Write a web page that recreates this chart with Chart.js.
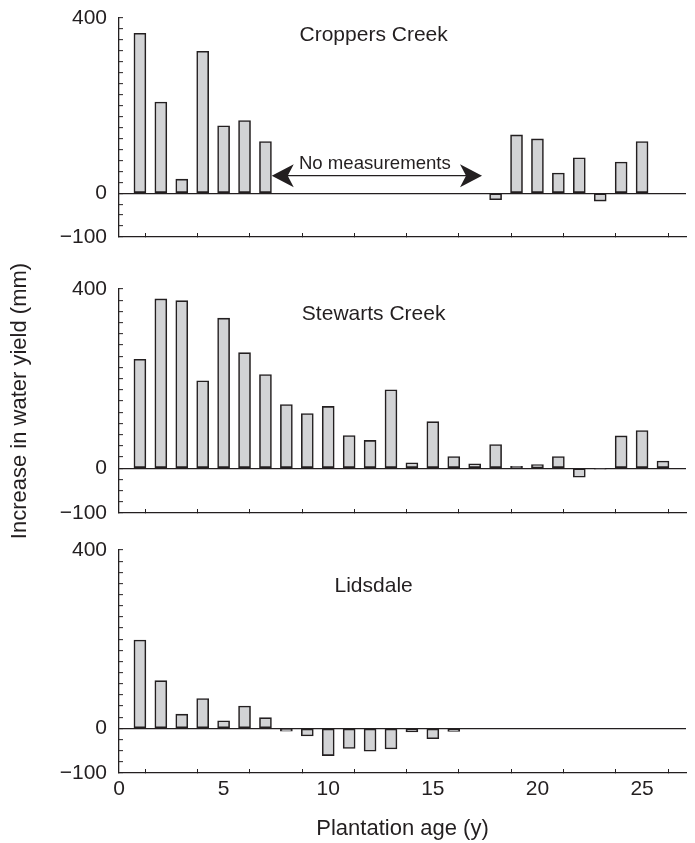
<!DOCTYPE html>
<html>
<head>
<meta charset="utf-8">
<script src="https://cdn.jsdelivr.net/npm/chart.js@4.4.1/dist/chart.umd.min.js"></script>
<style>
html, body { margin: 0; padding: 0; background: #fff; }
#wrap { position: relative; width: 695px; height: 843px; }
canvas { position: absolute; left: 0; }
</style>
</head>
<body>
<div id="wrap">
  <canvas id="croppers" width="695" height="251" style="top:0px"></canvas>
  <canvas id="stewarts" width="695" height="300" style="top:250px"></canvas>
  <canvas id="lidsdale" width="695" height="313" style="top:530px"></canvas>
</div>
<script>
// plantation age (years) and increase in water yield (mm) per catchment
const ages = [1, 2, 3, 4, 5, 6, 7, 8, 9, 10, 11, 12, 13, 14, 15, 16, 17, 18, 19, 20, 21, 22, 23, 24, 25, 26];
const croppersCreek = [365, 208, 32, 324, 154, 166, 118, null, null, null, null, null, null, null, null, null, null, -15, 133, 124, 46, 81, -18, 71, 118, null];
const stewartsCreek = [243, 378, 374, 195, 335, 258, 209, 142, 122, 138, 73, 62, 175, 12, 104, 26, 10, 53, 4, 8, 26, -20, -2, 72, 84, 16];
const lidsdale = [198, 107, 32, 67, 17, 50, 24, -6, -17, -61, -45, -51, -46, -8, -23, -7, null, null, null, null, null, null, null, null, null, null];

const yTickLabels = { '400': '400', '0': '0', '-100': '\u2212100' };
const xTickLabels = [0, 5, 10, 15, 20, 25];
const gapYears = [7.3, 17.35];   // Croppers Creek: years without measurements

const INK = '#231f20';
Chart.defaults.font.family = "'Liberation Sans', Arial, sans-serif";
Chart.defaults.color = INK;

// panel name, and the "no measurements" arrow on the first panel
const panelText = {
  id: 'panelText',
  afterDraw(chart, args, opts) {
    const { ctx, chartArea } = chart;
    const x = chart.scales.x, y = chart.scales.y;
    ctx.save();
    ctx.fillStyle = INK;
    ctx.font = "21px 'Liberation Sans', Arial, sans-serif";
    ctx.textAlign = 'center';
    ctx.textBaseline = 'alphabetic';
    ctx.fillText(opts.name, x.getPixelForValue(12.17), chartArea.top + opts.nameY);
    if (opts.arrow) {
      const x0 = x.getPixelForValue(gapYears[0]);
      const x1 = x.getPixelForValue(gapYears[1]);
      const ya = y.getPixelForValue(40);
      ctx.strokeStyle = INK;
      ctx.lineWidth = 1.3;
      ctx.beginPath();
      ctx.moveTo(x0 + 10, ya);
      ctx.lineTo(x1 - 10, ya);
      ctx.stroke();
      [[x0, 1], [x1, -1]].forEach(([tx, d]) => {
        ctx.beginPath();
        ctx.moveTo(tx, ya);
        ctx.lineTo(tx + d * 22, ya - 11.5);
        ctx.lineTo(tx + d * 16, ya);
        ctx.lineTo(tx + d * 22, ya + 11.5);
        ctx.closePath();
        ctx.fill();
      });
      ctx.font = "18.6px 'Liberation Sans', Arial, sans-serif";
      ctx.fillText('No measurements', (x0 + x1) / 2 - 2, ya - 7);
    }
    ctx.restore();
  }
};

function makePanel(id, values, opt) {
  const points = ages.map((a, i) => ({ x: a, y: values[i] })).filter(p => p.y !== null);
  return new Chart(document.getElementById(id), {
    type: 'bar',
    data: {
      datasets: [{
        data: points,
        backgroundColor: '#d2d3d5',
        borderColor: INK,
        borderWidth: 1.6,
        borderSkipped: false,
        barThickness: 12
      }]
    },
    options: {
      responsive: false,
      animation: false,
      events: [],
      layout: { padding: { top: opt.top, right: 9, left: 0, bottom: 0 } },
      plugins: {
        legend: { display: false },
        tooltip: { enabled: false },
        panelText: { name: opt.name, nameY: opt.nameY, arrow: !!opt.arrow }
      },
      scales: {
        x: {
          type: 'linear',
          min: 0,
          max: 27.1,
          offset: false,
          ticks: {
            stepSize: 2.5,
            includeBounds: false,
            autoSkip: false,
            maxRotation: 0,
            padding: 8,
            font: { size: 21 },
            color: INK,
            callback: v => (opt.xLabels && xTickLabels.includes(v)) ? String(v) : ''
          },
          grid: { drawOnChartArea: false, drawTicks: true, tickLength: -4, tickColor: INK, tickWidth: 1 },
          border: { color: INK, width: 1.3 },
          title: opt.xLabels
            ? { display: true, text: 'Plantation age (y)', font: { size: 22 }, color: INK, padding: { top: 0, bottom: 1 } }
            : { display: false },
          afterFit: s => { s.height = opt.xHeight; s.paddingLeft = 0; s.paddingRight = 0; }
        },
        y: {
          min: -100,
          max: 400,
          ticks: {
            stepSize: 25,
            includeBounds: false,
            autoSkip: false,
            padding: 16,
            font: { size: 21 },
            color: INK,
            callback: v => yTickLabels[String(v)] || ''
          },
          grid: {
            drawTicks: true,
            tickLength: -4,
            tickColor: INK,
            tickWidth: 1,
            lineWidth: 1.3,
            color: c => (c.tick && c.tick.value === 0) ? INK : 'rgba(0,0,0,0)'
          },
          border: { color: INK, width: 1.3 },
          title: opt.yTitle
            ? { display: true, text: 'Increase in water yield (mm)', font: { size: 22 }, color: INK, padding: { top: 7, bottom: 0 } }
            : { display: false },
          afterFit: s => { s.width = 119; s.paddingTop = 0; s.paddingBottom = 0; }
        }
      }
    },
    plugins: [panelText]
  });
}

makePanel('croppers', croppersCreek, { name: 'Croppers Creek', top: 18, nameY: 23, xHeight: 14, arrow: true });
makePanel('stewarts', stewartsCreek, { name: 'Stewarts Creek', top: 39, nameY: 31, xHeight: 37, yTitle: true });
makePanel('lidsdale', lidsdale, { name: 'Lidsdale', top: 20, nameY: 42, xHeight: 70, xLabels: true });
</script>
</body>
</html>
